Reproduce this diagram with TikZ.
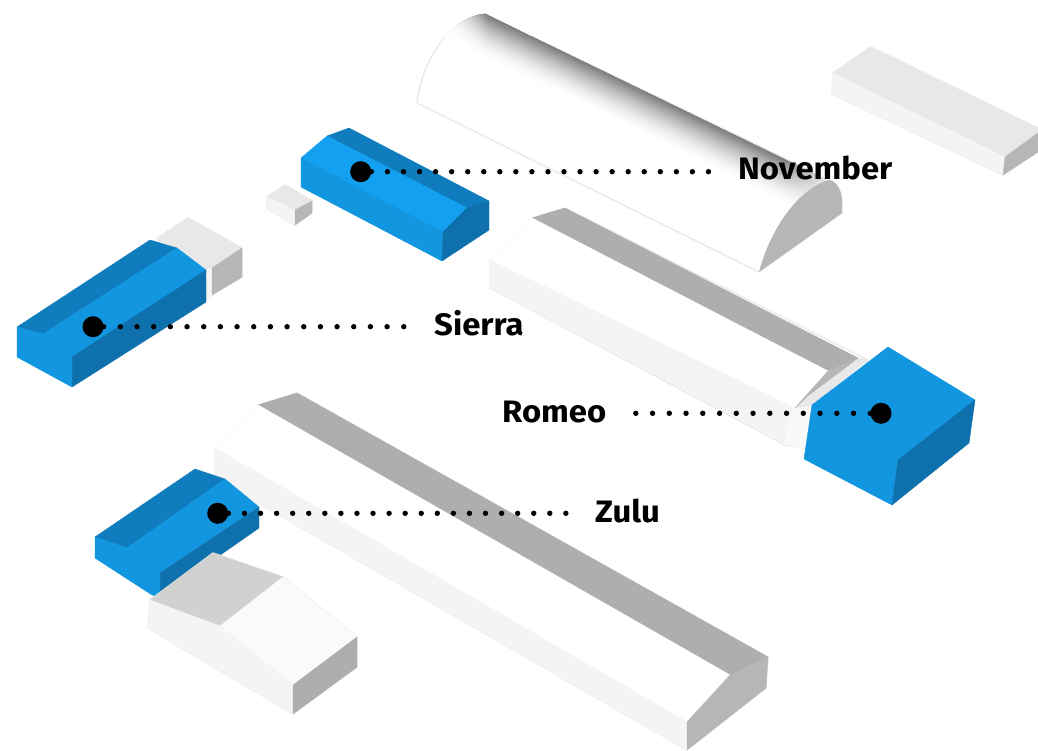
\documentclass[tikz,border=0pt]{standalone}
\usepackage{fontspec}
\usetikzlibrary{fadings}
\setmainfont{Fira Sans}
\newfontfamily\labfont{Fira Sans Bold}[FakeStretch=1.06]
\definecolor{bluelight}{HTML}{14A0F0}
\definecolor{bluemid}{HTML}{1296E0}
\definecolor{bluedark}{HTML}{0F7DBD}
\definecolor{bluedeep}{HTML}{0E70AC}
\definecolor{gtop}{HTML}{E8E8E8}
\definecolor{gwall}{HTML}{F4F4F4}
\definecolor{gside}{HTML}{B6B6B6}
\definecolor{gstrip}{HTML}{AEAEAE}
\definecolor{gedge}{HTML}{EAEAEA}
\tikzset{
  face/.style={fill=#1,draw=#1,line width=0.4pt,line join=round},
  sil/.style={draw=gedge,line width=1.4pt,line join=round,fill=white},
  leader/.style={line width=5.4pt,line cap=round,dash pattern=on 0pt off #1},
  bigdot/.style={circle,fill=black,inner sep=0pt,minimum size=21pt},
  lab/.style={anchor=base west,inner sep=0pt,font=\fontsize{31}{34}\labfont,text=black}
}
\begin{document}
\begin{tikzpicture}[x=1pt,y=-1pt]
\useasboundingbox (0,0) rectangle (1038,751);
\fill[white] (0,0) rectangle (1038,751);
% cylinder hall
\draw[sil] (417,103) .. controls (421,62) and (450,17) .. (485,14) -- (830,180)
  .. controls (838,183) and (842,192) .. (842,203) -- (842,213) -- (759,272) -- cycle;
\begin{scope}
\clip (417,103) .. controls (421,62) and (450,17) .. (485,14) -- (830,180)
  .. controls (798,188) and (770,230) .. (759,272) -- cycle;
\foreach \v in {44,43,...,1}{
  \pgfmathsetmacro{\tone}{52*(1-\v/44)^1.7}
  \fill[black!\tone!white] (400,-27.3) -- (860,196) -- (860,196+\v) -- (400,-27.3+\v) -- cycle;
}
\fill[white,path fading=east] (445,0) rectangle (488,80);
\fill[white,path fading=west] (785,130) rectangle (835,230);
\end{scope}
\fill[gside] (759,272) .. controls (770,230) and (798,188) .. (830,180)
  .. controls (838,183) and (842,192) .. (842,203) -- (842,213) -- cycle;
% top right block
\draw[sil] (871,47) -- (1038,128) -- (1038,152) -- (1003,175) -- (832,94) -- (833,73) -- cycle;
\fill[face=gtop] (871,47) -- (1038,128) -- (1038,133) -- (1005,157) -- (833,73) -- cycle;
\fill[face=gwall] (833,73) -- (1005,157) -- (1003,175) -- (832,94) -- cycle;
\fill[face=gside] (1005,157) -- (1038,133) -- (1038,152) -- (1003,175) -- cycle;
% small box
\draw[sil] (285,185) -- (312,201) -- (312,213) -- (295,225) -- (267,209) -- (267,197) -- cycle;
\fill[face=gtop] (285,185) -- (312,201) -- (295,210) -- (267,197) -- cycle;
\fill[face=gwall] (267,197) -- (295,210) -- (295,225) -- (267,209) -- cycle;
\fill[face=gside] (295,210) -- (312,201) -- (312,213) -- (295,225) -- cycle;
% middle long hall
\draw[sil] (490,260) -- (532,218) -- (565,208) -- (868,360) -- (820,450) -- (785,445) -- (490,288) -- cycle;
\fill[face=gstrip] (532,218) -- (565,208) -- (858,358) -- (828,371) -- cycle;
\fill[face=white] (490,260) -- (532,218) -- (828,371) -- (795,408) -- cycle;
\fill[face=gwall] (490,260) -- (795,408) -- (788,418) -- (785,443) -- (490,288) -- cycle;
\fill[face=gwall!60!white] (795,408) -- (812,405) -- (804,450) -- (785,443) -- (788,418) -- cycle;
\fill[face=gtop] (795,408) -- (858,358) -- (868,360) -- (812,405) -- cycle;
\fill[face=gside] (795,408) -- (828,371) -- (858,358) -- (808,396) -- cycle;
% long lower hall
\draw[sil] (215,448) -- (258,405) -- (297,393) -- (768,657) -- (766,688) -- (687,750) -- (215,478) -- cycle;
\fill[face=gstrip] (258,405) -- (297,393) -- (768,657) -- (730,675) -- cycle;
\fill[face=white] (215,448) -- (258,405) -- (730,675) -- (687,722) -- cycle;
\fill[face=gwall] (215,448) -- (687,722) -- (687,750) -- (215,478) -- cycle;
\fill[face=gside] (687,722) -- (730,675) -- (768,657) -- (766,688) -- (687,750) -- cycle;
% block behind Sierra
\draw[sil] (157,238) -- (188,218) -- (242,248) -- (242,277) -- (212,295) -- (206,300) -- cycle;
\fill[face=gtop] (157,240) -- (188,218) -- (242,248) -- (212,268) -- (206,270) -- (177,248) -- cycle;
\fill[face=gwall] (206,270) -- (212,268) -- (212,295) -- (206,300) -- cycle;
\fill[face=gside] (212,268) -- (242,248) -- (242,277) -- (212,295) -- cycle;
% November building
\fill[face=bluedark] (327,136) -- (349,128) -- (489,201) -- (467,208) -- cycle;
\fill[face=bluelight] (327,136) -- (467,208) -- (443,232) -- (301,158) -- cycle;
\fill[face=bluemid] (301,158) -- (443,232) -- (442,261) -- (301,187) -- cycle;
\fill[face=bluedeep] (443,232) -- (467,208) -- (489,201) -- (489,230) -- (442,261) -- cycle;
% Sierra building
\fill[face=bluedark] (17,327) -- (150,240) -- (177,248) -- (43,334) -- cycle;
\fill[face=bluemid] (43,334) -- (177,248) -- (206,270) -- (72,357) -- cycle;
\fill[face=bluedeep] (72,357) -- (206,270) -- (206,302) -- (72,387) -- cycle;
\fill[face=bluemid] (17,327) -- (43,334) -- (72,357) -- (72,387) -- (17,357) -- cycle;
% Romeo building
\fill[face=bluemid] (888,347) -- (975,400) -- (898,460) -- (892,505) -- (804,459) -- (812,405) -- cycle;
\fill[face=bluedeep] (898,460) -- (975,400) -- (969,443) -- (892,505) -- cycle;
% Zulu building
\fill[face=bluedark] (95,537) -- (195,469) -- (225,479) -- (127,548) -- cycle;
\fill[face=bluemid] (127,548) -- (225,479) -- (259,507) -- (160,573) -- cycle;
\fill[face=bluedeep] (160,573) -- (259,507) -- (259,528) -- (160,597) -- cycle;
\fill[face=bluemid] (95,537) -- (127,548) -- (160,573) -- (160,597) -- (152,595) -- (95,558) -- cycle;
% lower left house
\draw[sil] (150,600) -- (213,553) -- (283,577) -- (357,637) -- (357,667) -- (293,714) -- (148,628) -- cycle;
\fill[face=black!18] (150,600) -- (213,553) -- (283,577) -- (220,626) -- cycle;
\fill[face=black!2] (283,577) -- (357,637) -- (293,685) -- (220,626) -- cycle;
\fill[face=gwall] (150,600) -- (220,626) -- (293,685) -- (293,714) -- (148,628) -- cycle;
\fill[face=gstrip] (293,685) -- (357,637) -- (357,667) -- (293,714) -- cycle;
% markers, leaders, labels
\node[bigdot] (pnov) at (360.7,171.7) {};
\node[bigdot] (psie) at (93,326.7) {};
\node[bigdot] (prom) at (881,413.3) {};
\node[bigdot] (pzul) at (217.7,513.3) {};
\coordinate (enov) at (709,171.7);
\coordinate (esie) at (405,326.7);
\coordinate (erom) at (633,413.3);
\coordinate (ezul) at (566.5,513.3);
\draw[leader=16.05pt] (pnov.east) -- (enov);
\draw[leader=16.67pt] (psie.east) -- (esie);
\draw[leader=16.75pt] (prom.west) -- (erom);
\draw[leader=16.07pt] (pzul.east) -- (ezul);
\node[lab] (lnov) at (738,180) {November};
\node[lab] (lsie) at (434,335) {Sierra};
\node[lab] (lrom) at (502,422) {Romeo};
\node[lab] (lzul) at (595,522) {Zulu};
\end{tikzpicture}
\end{document}
